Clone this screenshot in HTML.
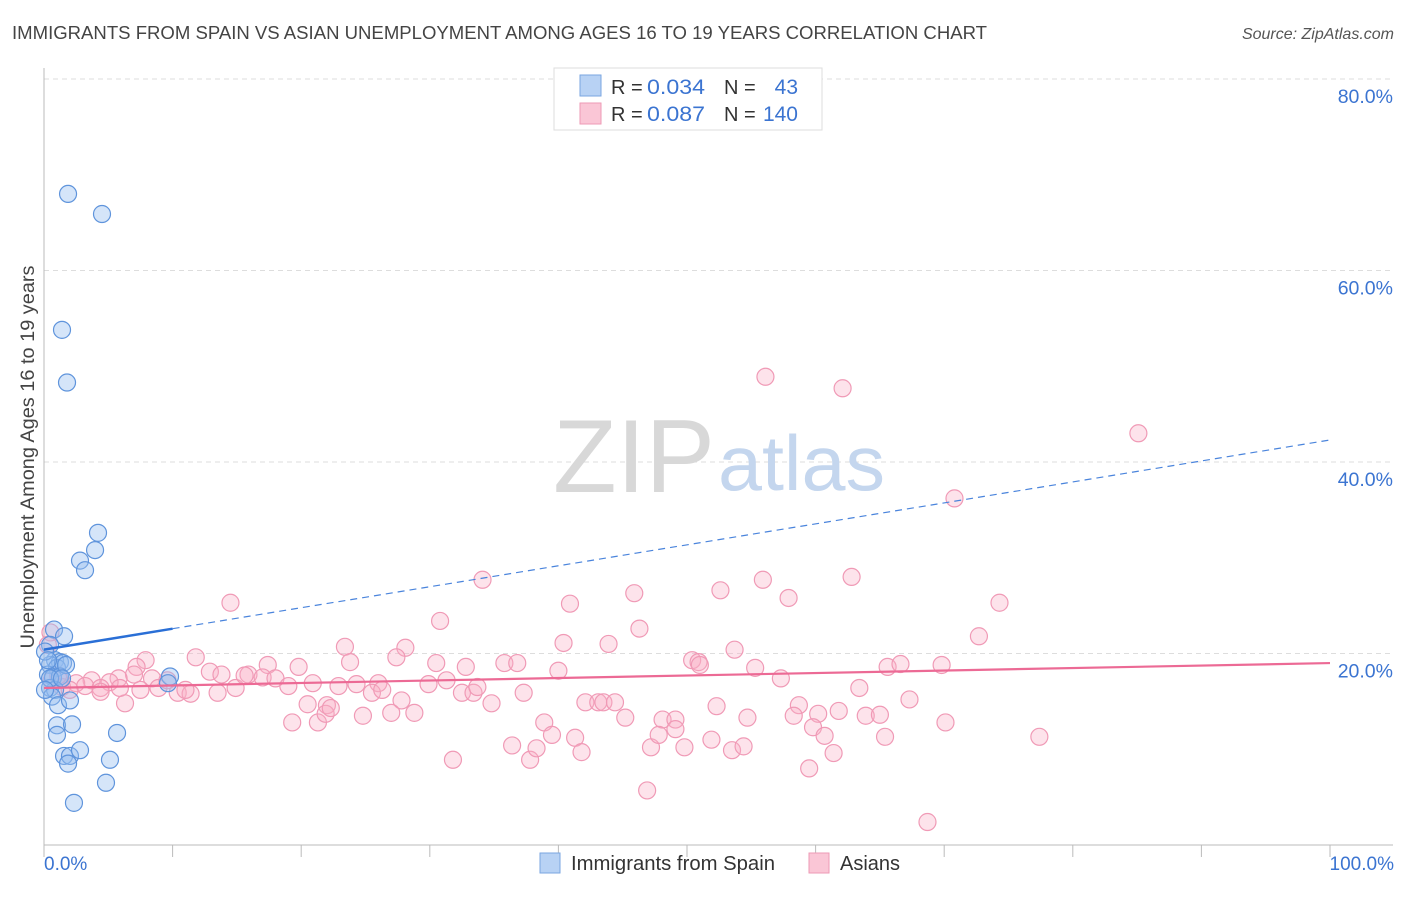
<!DOCTYPE html>
<html><head><meta charset="utf-8">
<style>
body{margin:0;background:#fff;font-family:"Liberation Sans",sans-serif;}
svg text{font-family:"Liberation Sans",sans-serif;}
</style></head>
<body>
<svg id="chart" width="1406" height="892" xmlns="http://www.w3.org/2000/svg">
<text x="12" y="39" font-size="18" fill="#444" textLength="975" lengthAdjust="spacingAndGlyphs">IMMIGRANTS FROM SPAIN VS ASIAN UNEMPLOYMENT AMONG AGES 16 TO 19 YEARS CORRELATION CHART</text>
<text x="1394" y="39" font-size="16" fill="#555" text-anchor="end" font-style="italic">Source: ZipAtlas.com</text>
<g id="grid"></g>
<g>
<text x="553" y="492" font-size="104" fill="#d8d8d8" font-family="Liberation Serif, serif" textLength="162" lengthAdjust="spacingAndGlyphs">ZIP</text>
<text x="718" y="490" font-size="78" fill="#c4d6ee" textLength="167" lengthAdjust="spacingAndGlyphs">atlas</text>
</g>
<line x1="44" y1="68" x2="44" y2="845" stroke="#bbb"/>
<line x1="44" y1="845" x2="1393" y2="845" stroke="#bbb"/>
<g id="ticks"></g>
<g id="ylabels"></g>
<text transform="translate(34,457) rotate(-90)" font-size="19" fill="#444" text-anchor="middle" textLength="383" lengthAdjust="spacingAndGlyphs">Unemployment Among Ages 16 to 19 years</text>
<text x="44" y="870" font-size="19" fill="#3b74d1">0.0%</text>
<text x="1394" y="870" font-size="19" fill="#3b74d1" text-anchor="end">100.0%</text>
<g id="pink"></g>
<g id="blue"></g>
<g id="trends"></g>
<g>
<rect x="554" y="68" width="268" height="62" fill="#fff" stroke="#ddd"/>
<rect x="580" y="75" width="21" height="21" fill="#b8d2f4" stroke="#7aa6e0"/>
<rect x="580" y="103" width="21" height="21" fill="#fac6d6" stroke="#ee9ab5"/>
<text x="611" y="94" font-size="20" fill="#333">R =</text>
<text x="647" y="94" font-size="21" fill="#3b74d1" textLength="58" lengthAdjust="spacingAndGlyphs">0.034</text>
<text x="724" y="94" font-size="20" fill="#333">N =</text>
<text x="798" y="94" font-size="21" fill="#3b74d1" text-anchor="end">43</text>
<text x="611" y="121" font-size="20" fill="#333">R =</text>
<text x="647" y="121" font-size="21" fill="#3b74d1" textLength="58" lengthAdjust="spacingAndGlyphs">0.087</text>
<text x="724" y="121" font-size="20" fill="#333">N =</text>
<text x="798" y="121" font-size="21" fill="#3b74d1" text-anchor="end">140</text>
</g>
<g>
<rect x="540" y="853" width="20" height="20" fill="#b8d2f4" stroke="#7aa6e0"/>
<text x="571" y="870" font-size="20" fill="#333" textLength="204" lengthAdjust="spacingAndGlyphs">Immigrants from Spain</text>
<rect x="809" y="853" width="20" height="20" fill="#fac6d6" stroke="#ee9ab5"/>
<text x="840" y="870" font-size="20" fill="#333">Asians</text>
</g>
</svg>
<script>
const yTicks=[20,40,60,80];
const xTicks=[0,10,20,30,40,50,60,70,80,90,100];
const blueX=[1.87,4.51,1.40,1.79,4.20,3.97,2.80,3.19,0.78,1.56,0.47,0.86,1.24,0.47,1.01,1.48,0.31,0.70,1.24,0.47,0.86,0.62,1.09,2.02,1.01,2.18,1.01,5.68,1.56,2.02,1.87,2.80,5.13,4.82,2.33,9.80,9.64,0.08,0.31,1.71,0.47,0.08,1.40];
const blueY=[68.0,65.9,53.8,48.3,32.6,30.8,29.7,28.7,22.5,21.8,20.9,19.3,19.1,18.8,18.5,19.0,17.8,17.5,17.6,16.4,16.2,15.5,14.6,15.1,12.5,12.6,11.5,11.7,9.3,9.3,8.5,9.9,8.9,6.5,4.4,17.6,16.9,20.2,19.3,18.8,17.4,16.2,17.4];
const pinkX=[56.1,62.1,85.1,70.8,62.8,34.1,55.9,45.9,52.6,57.9,14.5,40.9,74.3,30.8,46.3,72.7,40.4,23.4,43.9,28.1,53.7,7.9,11.8,23.8,27.4,30.5,32.8,35.8,36.8,50.4,50.9,51.0,65.6,66.6,69.8,0.5,0.3,7.2,12.9,13.8,15.9,17.4,19.8,7.0,5.8,5.1,3.7,2.5,1.2,8.4,8.9,9.6,10.4,11.4,11.0,13.5,14.9,15.6,17.0,18.0,19.0,20.9,22.9,24.3,26.0,25.5,26.3,29.9,31.3,32.5,33.4,33.7,37.3,40.0,57.3,55.3,63.4,6.3,20.5,22.0,27.8,34.8,42.1,43.1,43.5,44.4,52.3,58.7,63.9,65.0,67.3,61.8,58.3,60.2,19.3,21.3,21.9,22.3,24.8,27.0,28.8,38.9,45.2,48.1,49.1,49.1,54.7,59.8,70.1,31.8,36.4,37.8,38.3,39.5,41.3,41.8,47.2,47.8,49.8,51.9,53.5,54.4,60.7,61.4,65.4,77.4,59.5,46.9,68.7,1.4,2.0,3.2,4.4,4.4,0.6,1.1,5.9,7.5];
const pinkY=[48.9,47.7,43.0,36.2,28.0,27.7,27.7,26.3,26.6,25.8,25.3,25.2,25.3,23.4,22.6,21.8,21.1,20.7,21.0,20.6,20.4,19.3,19.6,19.1,19.6,19.0,18.6,19.0,19.0,19.3,19.1,18.8,18.6,18.9,18.8,22.2,20.9,18.6,18.1,17.8,17.8,18.8,18.6,17.8,17.4,17.0,17.2,16.9,17.2,17.4,16.4,17.2,15.9,15.8,16.2,15.9,16.4,17.7,17.5,17.4,16.6,16.9,16.6,16.8,16.9,15.9,16.2,16.8,17.2,15.9,15.9,16.5,15.9,18.2,17.4,18.5,16.4,14.8,14.7,14.6,15.1,14.8,14.9,14.9,14.9,14.9,14.5,14.6,13.5,13.6,15.2,14.0,13.5,13.7,12.8,12.8,13.7,14.3,13.5,13.8,13.8,12.8,13.3,13.1,13.1,12.1,13.3,12.3,12.8,8.9,10.4,8.9,10.1,11.5,11.2,9.7,10.2,11.5,10.2,11.0,9.9,10.3,11.4,9.6,11.3,11.3,8.0,5.7,2.4,16.5,16.2,16.6,16.4,16.0,17.2,17.7,16.4,16.2];
const blueTrend=[20.4,0.219];
const pinkTrend=[16.4,0.026];
const blueSolidEnd=10;

const NS="http://www.w3.org/2000/svg";
const sx=v=>44+v*12.86;
const sy=v=>845-v*9.575;
function mk(tag,attrs,parent){const e=document.createElementNS(NS,tag);for(const k in attrs)e.setAttribute(k,attrs[k]);parent.appendChild(e);return e;}
const grid=document.getElementById('grid'),yl=document.getElementById('ylabels'),tk=document.getElementById('ticks');
yTicks.forEach(t=>{
  const l=mk('line',{x1:44,x2:1393,y1:sy(t),y2:sy(t),stroke:'#ddd','stroke-dasharray':'5,4'},grid);
  
  
  const tx=mk('text',{x:1393,y:sy(t)+24,'font-size':19.5,fill:'#3b74d1','text-anchor':'end'},yl);
  tx.textContent=t.toFixed(1)+'%';
  
  
});
xTicks.forEach(t=>{
  const l=mk('line',{x1:sx(t),x2:sx(t),y1:845,y2:857,stroke:'#bbb'},tk);
  
  
});
const pg=document.getElementById('pink');
pinkX.forEach((x,i)=>{
  const c=mk('circle',{cx:sx(x),cy:sy(pinkY[i]),r:8.5,fill:'rgba(248,175,198,0.35)',stroke:'#f09ab6','stroke-width':1.2},pg);
  
  
});
const bg=document.getElementById('blue');
blueX.forEach((x,i)=>{
  const c=mk('circle',{cx:sx(x),cy:sy(blueY[i]),r:8.5,fill:'rgba(150,190,240,0.4)',stroke:'#5f94dc','stroke-width':1.2},bg);
  
  
});
const tg=document.getElementById('trends');
const bt=x=>blueTrend[0]+blueTrend[1]*x, pt=x=>pinkTrend[0]+pinkTrend[1]*x;
let a=mk('line',{x1:sx(0),y1:sy(bt(0)),x2:sx(blueSolidEnd),y2:sy(bt(blueSolidEnd)),stroke:'#2a6fd6','stroke-width':2.5},tg);


a=mk('line',{x1:sx(blueSolidEnd),y1:sy(bt(blueSolidEnd)),x2:sx(100),y2:sy(bt(100)),stroke:'#4a84dc','stroke-width':1.2,'stroke-dasharray':'7,5'},tg);


a=mk('line',{x1:sx(0),y1:sy(pt(0)),x2:sx(100),y2:sy(pt(100)),stroke:'#ec6a95','stroke-width':2.2},tg);


</script>
</body></html>
